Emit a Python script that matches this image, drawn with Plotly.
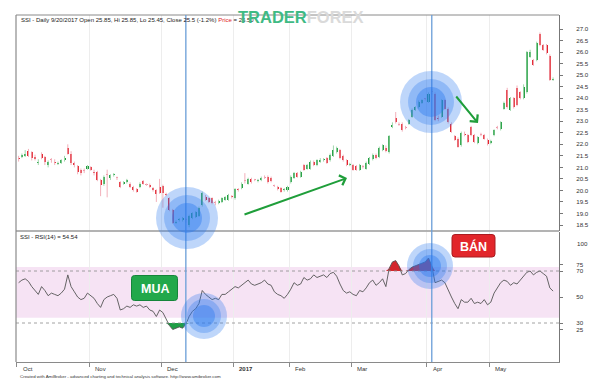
import numpy as np
import plotly.graph_objects as go

# ---------------- data ----------------
months = ["Oct", "Nov", "Dec", "2017", "Feb", "Mar", "Apr", "May"]
month_first_bar = [0, 22, 44, 66, 83, 102, 125, 144]

open_ = [21.40, 21.45, 21.50, 21.70, 21.65, 21.45, 21.20, 21.60, 21.45, 21.10,
         21.30, 21.25, 21.15, 21.20, 21.30, 21.85, 21.60, 21.20, 21.05, 20.90,
         20.85, 20.95, 21.00, 20.80, 20.80, 20.45, 20.30, 20.65, 20.55, 20.65,
         20.55, 20.35, 20.30, 20.35, 20.30, 20.15, 20.05, 20.15, 20.40, 20.25,
         20.25, 20.10, 20.00, 20.15, 20.20, 19.85, 19.65, 19.15, 18.60, 18.70,
         18.70, 18.70, 18.50, 18.80, 18.85, 18.90, 19.35, 19.70, 19.65, 19.65,
         19.45, 19.45, 19.50, 19.60, 19.60, 19.75, 19.65, 20.05, 20.10, 20.40,
         20.30, 20.50, 20.45, 20.40, 20.45, 20.55, 20.60, 20.55, 20.20, 20.15,
         20.10, 20.00, 20.00, 20.35, 20.55, 20.75, 20.60, 21.10, 20.95, 20.95,
         21.25, 21.10, 21.25, 21.30, 21.40, 21.30, 21.50, 21.65, 21.75, 21.50,
         21.30, 21.10, 21.10, 21.05, 20.90, 21.00, 20.95, 21.15, 21.35, 21.55,
         21.45, 21.75, 21.85, 21.65, 22.75, 23.15, 22.85, 22.90, 22.70, 22.90,
         23.20, 23.50, 23.60, 23.80, 23.95, 23.85, 24.25, 24.20, 23.15, 23.20,
         23.90, 23.55, 22.90, 22.35, 22.25, 21.95, 22.45, 22.40, 22.75, 22.40,
         22.05, 22.40, 22.40, 22.20, 22.05, 22.40, 22.70, 22.65, 23.55, 24.35,
         23.50, 24.00, 24.45, 24.25, 24.00, 24.25, 25.80, 25.65, 25.65, 26.80,
         26.30, 26.30, 25.85, 24.80]
high = [21.50, 21.60, 21.75, 21.80, 21.70, 21.55, 21.35, 21.65, 21.50, 21.30,
        21.40, 21.35, 21.25, 21.35, 21.50, 22.00, 21.70, 21.25, 21.10, 20.95,
        20.95, 21.10, 21.05, 20.90, 20.85, 20.50, 20.65, 20.90, 20.70, 20.75,
        20.60, 20.40, 20.40, 20.50, 20.35, 20.20, 20.10, 20.35, 20.45, 20.30,
        20.30, 20.15, 20.05, 20.50, 20.25, 19.90, 19.70, 19.20, 18.70, 18.80,
        18.85, 18.80, 18.95, 19.05, 19.10, 19.30, 19.95, 19.80, 19.70, 19.70,
        19.55, 19.60, 19.70, 19.75, 19.85, 19.80, 20.10, 20.10, 20.35, 20.75,
        20.55, 20.55, 20.50, 20.50, 20.60, 20.65, 20.65, 20.60, 20.25, 20.20,
        20.15, 20.10, 20.20, 20.65, 20.80, 20.80, 20.85, 21.15, 21.15, 21.30,
        21.30, 21.35, 21.40, 21.40, 21.45, 21.60, 21.95, 21.90, 21.80, 21.55,
        21.35, 21.20, 21.15, 21.10, 21.15, 21.10, 21.25, 21.45, 21.60, 21.60,
        21.90, 22.00, 21.95, 22.40, 22.95, 23.40, 22.95, 22.95, 22.80, 23.10,
        23.55, 23.65, 23.90, 23.95, 24.00, 24.25, 24.40, 24.25, 23.25, 23.95,
        23.95, 23.60, 22.95, 22.40, 22.30, 22.55, 22.55, 22.45, 22.80, 22.45,
        22.35, 22.50, 22.45, 22.25, 22.20, 22.65, 22.80, 23.00, 23.85, 24.45,
        24.05, 24.05, 24.55, 24.30, 24.60, 26.05, 26.10, 25.70, 26.45, 26.85,
        26.35, 26.35, 25.90, 24.90]
low = [21.25, 21.40, 21.45, 21.45, 21.30, 21.30, 21.10, 21.35, 21.10, 21.00,
       21.20, 21.10, 21.10, 21.15, 21.25, 21.55, 21.10, 21.00, 20.70, 20.65,
       20.75, 20.90, 20.85, 20.65, 20.40, 19.75, 20.20, 19.70, 20.45, 20.60,
       20.45, 20.10, 20.25, 20.30, 20.10, 19.95, 19.90, 20.10, 20.25, 20.20,
       20.10, 19.95, 19.50, 19.85, 19.25, 19.75, 19.10, 18.55, 18.55, 18.65,
       18.65, 18.60, 18.40, 18.75, 18.80, 18.85, 19.30, 19.55, 19.45, 19.40,
       19.35, 19.40, 19.45, 19.55, 19.55, 19.65, 19.60, 19.95, 20.05, 20.30,
       20.25, 20.30, 20.40, 20.35, 20.40, 20.50, 20.30, 20.35, 20.15, 20.00,
       19.90, 19.95, 19.95, 20.30, 20.50, 20.55, 20.55, 20.85, 20.90, 20.90,
       21.05, 21.05, 21.20, 21.25, 21.15, 21.25, 21.45, 21.60, 21.35, 21.25,
       21.05, 21.05, 20.85, 20.85, 20.85, 20.95, 20.90, 21.10, 21.30, 21.35,
       21.40, 21.70, 21.65, 21.60, 22.70, 22.90, 22.80, 22.55, 22.65, 22.85,
       23.15, 23.45, 23.55, 23.75, 23.90, 23.80, 24.15, 23.00, 23.00, 23.15,
       23.50, 22.90, 22.50, 22.15, 21.85, 21.90, 22.35, 22.05, 22.35, 22.05,
       22.00, 22.35, 22.20, 21.95, 22.00, 22.35, 22.65, 22.60, 23.50, 23.55,
       23.45, 23.55, 23.65, 23.95, 23.95, 24.20, 25.75, 25.40, 25.60, 26.25,
       26.05, 25.90, 24.75, 24.75]
close = [21.35, 21.55, 21.60, 21.50, 21.40, 21.35, 21.25, 21.40, 21.25, 21.25,
         21.30, 21.20, 21.20, 21.30, 21.40, 21.60, 21.20, 21.10, 20.80, 20.75,
         20.85, 21.05, 20.90, 20.75, 20.45, 20.25, 20.60, 20.65, 20.65, 20.70,
         20.55, 20.15, 20.35, 20.45, 20.15, 20.00, 19.95, 20.30, 20.30, 20.25,
         20.15, 20.00, 19.85, 19.90, 19.90, 19.80, 19.15, 18.60, 18.65, 18.75,
         18.80, 18.70, 18.90, 19.00, 19.05, 19.25, 19.90, 19.60, 19.50, 19.45,
         19.45, 19.55, 19.65, 19.70, 19.80, 19.70, 20.05, 20.00, 20.30, 20.40,
         20.50, 20.35, 20.45, 20.45, 20.55, 20.55, 20.35, 20.40, 20.20, 20.05,
         19.95, 20.05, 20.15, 20.60, 20.75, 20.60, 20.80, 20.90, 21.10, 21.25,
         21.10, 21.30, 21.30, 21.35, 21.20, 21.55, 21.75, 21.85, 21.40, 21.30,
         21.10, 21.15, 20.90, 20.90, 21.10, 21.00, 21.20, 21.40, 21.55, 21.40,
         21.85, 21.95, 21.70, 22.35, 22.85, 22.95, 22.85, 22.60, 22.70, 23.05,
         23.50, 23.60, 23.85, 23.90, 23.95, 24.20, 24.25, 23.05, 23.10, 23.90,
         23.55, 22.95, 22.55, 22.20, 21.90, 22.50, 22.40, 22.10, 22.40, 22.10,
         22.30, 22.40, 22.25, 22.00, 22.15, 22.60, 22.70, 22.95, 23.80, 23.60,
         24.00, 23.60, 23.70, 24.00, 24.50, 26.00, 26.00, 25.45, 26.40, 26.30,
         26.10, 25.95, 24.80, 24.85]
rsi14 = [61, 63, 64, 62, 58, 55, 52, 58, 55, 51, 53, 52, 51, 53, 56, 67, 58, 54, 50, 48, 49, 53,
         51, 49, 45, 42, 48, 50, 51, 52, 49, 40, 41, 43, 42, 44, 43, 44, 42, 43, 40, 39, 35, 40,
         38, 33, 28, 25, 26, 27, 26, 29, 35, 39, 41, 45, 55, 52, 50, 48, 49, 48, 52, 52, 54, 56, 58,
         57, 59, 61, 63, 60, 59, 60, 61, 63, 60, 59, 54, 52, 51, 49, 52, 56, 61, 59, 60,
         65, 63, 64, 67, 65, 66, 67, 65, 68, 69, 66, 60, 55, 53, 54,
         52, 51, 55, 54, 57, 61, 63, 59, 61, 64, 58, 72, 77, 78, 74, 67, 68, 71, 73, 74, 75, 76, 77,
         80, 74, 61, 62, 63, 61, 55, 50, 45, 41, 48, 46, 46, 49, 45, 46, 45, 48, 44,
         46, 53, 57, 61, 63, 62, 59, 61, 60, 63, 66, 69, 70, 67, 69, 70, 68, 66, 57, 54.54]

price_ticks = [18.5, 19.0, 19.5, 20.0, 20.5, 21.0, 21.5, 22.0, 22.5, 23.0,
               23.5, 24.0, 24.5, 25.0, 25.5, 26.0, 26.5, 27.0]
rsi_ticks = [25, 30, 50, 70, 75]
rsi_hi, rsi_lo = 70, 30
band_hi, band_lo = 73, 34
cursor_bars = [51, 126]

header = ("SSI - Daily 9/20/2017 Open 25.85, Hi 25.85, Lo 25.45, Close 25.5 (-1.2%) "
          "<span style='color:#e0201e'>Price</span> = 25.50")
rsi_title = "SSI - RSI(14) = 54.54"
credit = ("Created with AmiBroker - advanced charting and technical analysis software. "
          "http://www.amibroker.com")

# ---------------- geometry helpers (layout only) ----------------
FW, FH = 600, 382
PL, PR, PT, PB = 16, 559, 15, 362
def XP(x):
    return (x - PL) / (PR - PL)
def YP(y):
    return (PB - y) / (PB - PT)

FONT = "Arial, 'Liberation Sans', sans-serif"

o = np.array(open_); h = np.array(high); l = np.array(low); c = np.array(close)
r = np.array(rsi14, dtype=float)
idx = np.arange(len(o))
up = c > o
dn = c < o
dj = c == o

fig = go.Figure()

# wicks
def wick_trace(mask, color):
    xs, ys = [], []
    for i in idx[mask]:
        xs += [i, i, None]
        ys += [l[i], h[i], None]
    return go.Scatter(x=xs, y=ys, mode="lines", line=dict(color=color, width=1),
                      hoverinfo="skip", xaxis="x", yaxis="y")

fig.add_trace(wick_trace(up, "#9fd6ab"))
fig.add_trace(wick_trace(dn | dj, "#f2b0ba"))

# bodies
body_lo = np.minimum(o, c)
body_h = np.abs(c - o)
for mask, col in [(up, "#1e9d3e"), (dn, "#e2222b"), (dj, "#ee8fa3")]:
    hh = np.where(body_h[mask] > 0, body_h[mask], 0.045)
    fig.add_trace(go.Bar(x=idx[mask], y=hh, base=body_lo[mask], width=0.62,
                         marker=dict(color=col, line=dict(width=0)),
                         xaxis="x", yaxis="y", hoverinfo="skip"))

# RSI fills
fig.add_trace(go.Scatter(x=idx, y=np.full(len(r), rsi_hi), mode="lines",
                         line=dict(width=0, color="rgba(0,0,0,0)"), xaxis="x", yaxis="y2",
                         hoverinfo="skip"))
fig.add_trace(go.Scatter(x=idx, y=np.maximum(r, rsi_hi), mode="lines", fill="tonexty",
                         fillcolor="#d3262c", line=dict(width=0, color="rgba(0,0,0,0)"),
                         xaxis="x", yaxis="y2", hoverinfo="skip"))
fig.add_trace(go.Scatter(x=idx, y=np.full(len(r), rsi_lo), mode="lines",
                         line=dict(width=0, color="rgba(0,0,0,0)"), xaxis="x", yaxis="y2",
                         hoverinfo="skip"))
fig.add_trace(go.Scatter(x=idx, y=np.minimum(r, rsi_lo), mode="lines", fill="tonexty",
                         fillcolor="#1e9e45", line=dict(width=0, color="rgba(0,0,0,0)"),
                         xaxis="x", yaxis="y2", hoverinfo="skip"))
# RSI line
fig.add_trace(go.Scatter(x=idx, y=r, mode="lines", line=dict(color="#555555", width=0.9),
                         xaxis="x", yaxis="y2", hoverinfo="skip"))

# last value markers at right axis
xr_max = 164.8
fig.add_trace(go.Scatter(x=[xr_max + 0.7], y=[c[-1]], mode="markers",
                         marker=dict(symbol="triangle-left", size=8, color="#1e9d3e"),
                         cliponaxis=False, xaxis="x", yaxis="y", hoverinfo="skip"))
fig.add_trace(go.Scatter(x=[xr_max + 0.7], y=[r[-1]], mode="markers",
                         marker=dict(symbol="triangle-left", size=8, color="#111111"),
                         cliponaxis=False, xaxis="x", yaxis="y2", hoverinfo="skip"))

month_ticks = [b - 0.5 for b in month_first_bar]

shapes = []
# pink RSI band
shapes.append(dict(type="rect", xref="paper", yref="y2", x0=0, x1=1, y0=band_lo, y1=band_hi,
                   fillcolor="#f6e3f4", line=dict(width=0), layer="below"))
for lv in (rsi_hi, rsi_lo):
    shapes.append(dict(type="line", xref="paper", yref="y2", x0=0, x1=1, y0=lv, y1=lv,
                       line=dict(color="#8a8a8a", width=0.8, dash="dot")))
# frame lines
shapes.append(dict(type="line", xref="paper", yref="paper", x0=0, x1=1, y0=YP(231), y1=YP(231),
                   line=dict(color="#9a9a9a", width=1.6)))
shapes.append(dict(type="line", xref="paper", yref="paper", x0=0, x1=1, y0=1, y1=1,
                   line=dict(color="#8a8a8a", width=1)))
shapes.append(dict(type="line", xref="paper", yref="paper", x0=0, x1=0, y0=0, y1=1,
                   line=dict(color="#8a8a8a", width=1.2)))
# cursor lines
for b in cursor_bars:
    shapes.append(dict(type="line", xref="x", yref="paper", x0=b, x1=b, y0=0, y1=1,
                       line=dict(color="#6a9ed8", width=1.3)))
# blue highlight circles (centre px, radii px)
circles = [((187, 218), (31, 23, 15)), ((431, 102), (31, 23, 15)),
           ((204, 316), (23, 17, 11)), ((430, 266), (23, 17, 11))]
for (cx, cy), radii in circles:
    for k, rad in enumerate(radii):
        shapes.append(dict(type="circle", xref="paper", yref="paper",
                           xsizemode="pixel", ysizemode="pixel",
                           xanchor=XP(cx), yanchor=YP(cy),
                           x0=-rad, x1=rad, y0=-rad, y1=rad,
                           fillcolor="rgba(40,120,240,0.30)" if k < 2 else "rgba(40,120,240,0.40)",
                           line=dict(width=0), layer="above"))

def rrect(x0, y0, x1, y1, rr):
    X, Y = XP, YP
    return (f"M{X(x0+rr)},{Y(y0)} L{X(x1-rr)},{Y(y0)} Q{X(x1)},{Y(y0)} {X(x1)},{Y(y0+rr)} "
            f"L{X(x1)},{Y(y1-rr)} Q{X(x1)},{Y(y1)} {X(x1-rr)},{Y(y1)} "
            f"L{X(x0+rr)},{Y(y1)} Q{X(x0)},{Y(y1)} {X(x0)},{Y(y1-rr)} "
            f"L{X(x0)},{Y(y0+rr)} Q{X(x0)},{Y(y0)} {X(x0+rr)},{Y(y0)} Z")

shapes.append(dict(type="path", xref="paper", yref="paper", path=rrect(131.5, 275.5, 177.5, 300.5, 3),
                   fillcolor="#22a84b", line=dict(color="#15853a", width=1), layer="above"))
shapes.append(dict(type="path", xref="paper", yref="paper", path=rrect(452, 234.5, 495, 257, 3),
                   fillcolor="#e2262b", line=dict(color="#a91c20", width=1), layer="above"))

ann = []
def txt(text, x, y, size, color="#222", xanchor="left", bold=False):
    return dict(text=("<b>%s</b>" % text) if bold else text, xref="paper", yref="paper",
                x=XP(x), y=YP(y), xanchor=xanchor, yanchor="middle", showarrow=False,
                font=dict(family=FONT, size=size, color=color))

ann.append(txt(header, 19, 20.5, 6))
ann.append(txt(rsi_title, 18, 236.5, 6))
ann.append(txt(credit, 18, 376.5, 4.4, "#333"))
ann.append(txt("100", 575, 243.5, 6.2, "#333"))
for t, lab in zip(month_ticks, months):
    ann.append(dict(text=("<b>%s</b>" % lab) if lab == "2017" else lab, xref="x", yref="paper",
                    x=t, y=YP(368.5), xanchor="left", yanchor="middle", xshift=4, showarrow=False,
                    font=dict(family=FONT, size=6, color="#333")))
ann.append(txt("MUA", 154.5, 288.5, 12.5, "white", "center", True))
ann.append(txt("BÁN", 473.5, 246, 12.5, "white", "center", True))
# green trend arrows
ann.append(dict(text="", xref="paper", yref="paper", x=XP(347), y=YP(178), ax=243 - 347, ay=215 - 178,
                axref="pixel", ayref="pixel", showarrow=True, arrowhead=4, arrowsize=1,
                arrowwidth=2, arrowcolor="#1f9e3a"))
ann.append(dict(text="", xref="paper", yref="paper", x=XP(478), y=YP(123), ax=455 - 478, ay=95 - 123,
                axref="pixel", ayref="pixel", showarrow=True, arrowhead=4, arrowsize=1,
                arrowwidth=2, arrowcolor="#1f9e3a"))
# watermark
ann.append(txt("<span style='color:#3fba84'>TRADER</span><span style='color:#dadada'>FOREX</span>",
               236, 17, 16.5, bold=True))

fig.update_layout(
    width=FW, height=FH,
    margin=dict(l=PL, r=FW - PR, t=PT, b=FH - PB),
    paper_bgcolor="white", plot_bgcolor="white",
    showlegend=False, barmode="overlay", bargap=0, hovermode=False,
    xaxis=dict(domain=[0, 1], range=[-0.8, xr_max], anchor="y2", showline=True,
               linecolor="#8a8a8a", linewidth=1, ticks="outside", ticklen=4,
               tickcolor="#8a8a8a", tickvals=month_ticks, showticklabels=False,
               showgrid=True, gridcolor="#ededed", gridwidth=1, zeroline=False),
    yaxis=dict(domain=[YP(231), 1], range=[18.24, 27.607], side="right", anchor="x",
               tickvals=price_ticks, ticktext=["%.1f" % v for v in price_ticks],
               tickfont=dict(family=FONT, size=6.2, color="#333"), ticks="outside", ticklen=3,
               tickcolor="#777", showline=True, linecolor="#777", linewidth=1,
               showgrid=False, zeroline=False, ticklabelstandoff=12),
    yaxis2=dict(domain=[0, YP(232)], range=[0, 100], side="right", anchor="x",
                tickvals=rsi_ticks, ticktext=[str(v) for v in rsi_ticks],
                tickfont=dict(family=FONT, size=6.2, color="#333"), ticks="outside", ticklen=3,
                tickcolor="#777", showline=True, linecolor="#777", linewidth=1,
                showgrid=False, zeroline=False, ticklabelstandoff=12),
    shapes=shapes, annotations=ann,
)

fig.write_html("out.html", config={"displayModeBar": False, "staticPlot": True},
               post_script="document.body.style.margin='0';document.body.style.overflow='hidden';")
